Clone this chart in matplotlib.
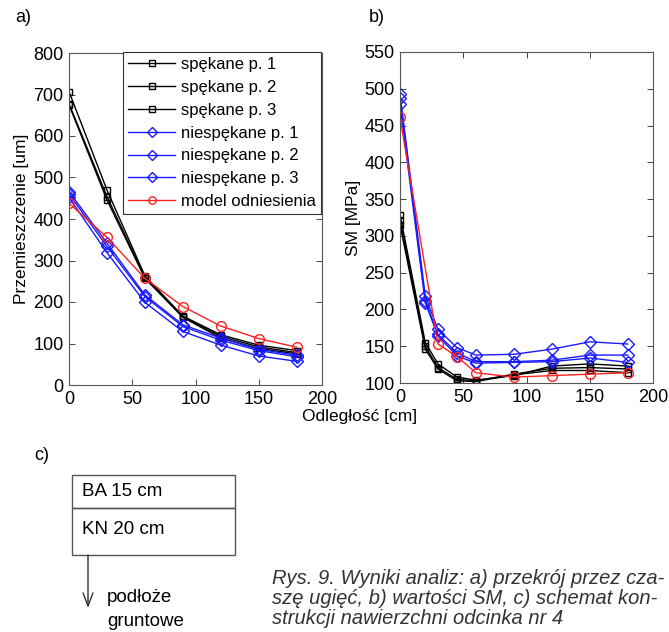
import matplotlib
matplotlib.use('Agg')
import matplotlib.pyplot as plt
from matplotlib.patches import Rectangle

plt.rcParams['font.family'] = ['Liberation Sans', 'DejaVu Sans']

# a) przemieszczenie [um]
x_a = [0, 30, 60, 90, 120, 150, 180]
sp1_a = [707, 470, 263, 166, 121, 96, 83]
sp2_a = [678, 454, 260, 165, 117, 92, 78]
sp3_a = [675, 446, 257, 163, 113, 88, 75]
nsp1_a = [466, 342, 217, 145, 113, 86, 72]
nsp2_a = [460, 334, 213, 141, 108, 83, 68]
nsp3_a = [452, 319, 199, 129, 96, 70, 57]
model_a = [438, 356, 257, 189, 142, 112, 91]

# b) SM [MPa]
x_b = [0, 20, 30, 45, 60, 90, 120, 150, 180]
sp1_b = [329, 155, 126, 108, 104, 110, 123, 126, 123]
sp2_b = [322, 150, 121, 105, 103, 112, 120, 121, 119]
sp3_b = [315, 146, 119, 103, 102, 111, 117, 117, 114]
nsp1_b = [493, 218, 173, 148, 138, 139, 146, 156, 153]
nsp2_b = [488, 212, 166, 141, 129, 129, 131, 138, 138]
nsp3_b = [479, 209, 164, 137, 127, 128, 129, 134, 128]
x_model_b = [0, 30, 45, 60, 90, 120, 150, 180]
model_b = [461, 153, 136, 114, 108, 110, 112, 114]

labels = ['spękane p. 1', 'spękane p. 2', 'spękane p. 3',
          'niespękane p. 1', 'niespękane p. 2', 'niespękane p. 3',
          'model odniesienia']

fs_tick = 13
fs_lab = 12.5
W, H = 669, 632
fig = plt.figure(figsize=(W / 100, H / 100), dpi=100)


def px_axes(l, t, r, b):
    return fig.add_axes([l / W, 1 - b / H, (r - l) / W, (b - t) / H])


def style(ax):
    ax.tick_params(direction='in', top=True, right=True, labelsize=fs_tick,
                   length=4, width=0.7, color='#444444', pad=4)
    for s in ax.spines.values():
        s.set_color('#555555')
        s.set_linewidth(0.8)


def draw(ax, xs, series, x_model, model):
    kw = dict(markerfacecolor='none', linewidth=1)
    for y in series[:3]:
        ax.plot(xs, y, color='k', marker='s', markersize=5, **kw)
    for y in series[3:]:
        ax.plot(xs, y, color='#1a1aff', marker='D', markersize=6.5, **kw)
    ax.plot(x_model, model, color='#ff2020', marker='o', markersize=7, **kw)


ax1 = px_axes(69, 53, 322, 385)
draw(ax1, x_a, [sp1_a, sp2_a, sp3_a, nsp1_a, nsp2_a, nsp3_a], x_a, model_a)
ax1.set_xlim(0, 200)
ax1.set_ylim(0, 800)
ax1.set_xticks([0, 50, 100, 150, 200])
ax1.set_yticks(range(0, 801, 100))
style(ax1)
ax1.set_ylabel('Przemieszczenie [um]', fontsize=fs_lab)
ax1.yaxis.set_label_coords(-0.16, 0.5)
leg = ax1.legend(labels, loc='upper right', bbox_to_anchor=(0.995, 1.003),
                 fontsize=12, frameon=True, fancybox=False, framealpha=1,
                 edgecolor='#333333', handlelength=2.8, labelspacing=0.47,
                 borderpad=0.3, handletextpad=0.35, markerscale=0.75,
                 borderaxespad=0)
leg.get_frame().set_linewidth(0.8)

ax2 = px_axes(400, 52, 653, 383)
draw(ax2, x_b, [sp1_b, sp2_b, sp3_b, nsp1_b, nsp2_b, nsp3_b], x_model_b, model_b)
ax2.set_xlim(0, 200)
ax2.set_ylim(100, 550)
ax2.set_xticks([0, 50, 100, 150, 200])
ax2.set_yticks(range(100, 551, 50))
style(ax2)
ax2.set_ylabel('SM [MPa]', fontsize=fs_lab)
ax2.yaxis.set_label_coords(-0.155, 0.5)

fig.text(23 / W, 1 - 17 / H, 'a)', fontsize=fs_tick, ha='center', va='center')
fig.text(377 / W, 1 - 17 / H, 'b)', fontsize=fs_tick, ha='center', va='center')
fig.text(360 / W, 1 - 417 / H, 'Odległość [cm]', fontsize=fs_lab,
         ha='center', va='center')

# c) schemat konstrukcji
ax3 = fig.add_axes([0, 0, 1, 1], zorder=-1)
ax3.set_xlim(0, W)
ax3.set_ylim(H, 0)
ax3.axis('off')
ax3.add_patch(Rectangle((72, 475), 163, 33, fill=False, edgecolor='#555555', lw=1))
ax3.add_patch(Rectangle((72, 508), 163, 47, fill=False, edgecolor='#555555', lw=1))
ax3.annotate('', xy=(88, 608), xytext=(88, 555),
             arrowprops=dict(arrowstyle='->,head_length=0.95,head_width=0.36',
                             color='#333333', lw=1, mutation_scale=10,
                             shrinkA=0, shrinkB=0))
ax3.text(42, 455, 'c)', fontsize=fs_tick, ha='center', va='center')
ax3.text(82, 492, 'BA 15 cm', fontsize=13.5, va='center')
ax3.text(82, 529, 'KN 20 cm', fontsize=13.5, va='center')
ax3.text(107, 597, 'podłoże', fontsize=13.5, va='center')
ax3.text(107, 621, 'gruntowe', fontsize=13.5, va='center')

caption = ['Rys. 9. Wyniki analiz: a) przekrój przez cza-',
           'szę ugięć, b) wartości SM, c) schemat kon-',
           'strukcji nawierzchni odcinka nr 4']
for i, line in enumerate(caption):
    ax3.text(272, 579 + 20 * i, line, fontsize=14.5, style='italic',
             color='#333333', va='center')

fig.savefig('out.png', dpi=100)
